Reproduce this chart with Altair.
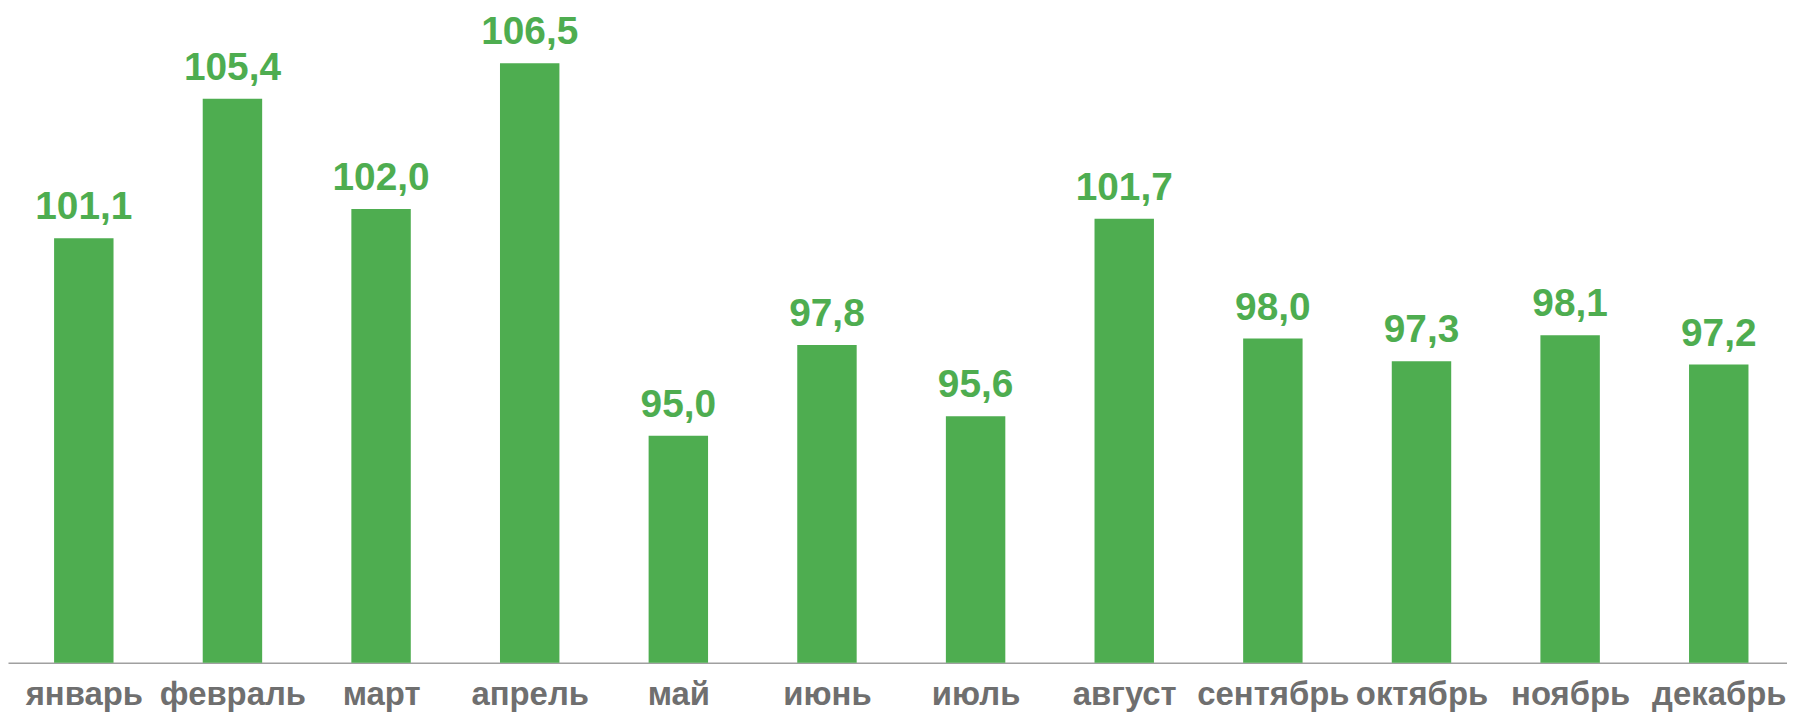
import altair as alt
import pandas as pd

months = ["январь", "февраль", "март", "апрель", "май", "июнь",
          "июль", "август", "сентябрь", "октябрь", "ноябрь", "декабрь"]
values = [101.1, 105.4, 102.0, 106.5, 95.0, 97.8, 95.6, 101.7, 98.0, 97.3, 98.1, 97.2]

df = pd.DataFrame({
    "idx": list(range(len(months))),
    "month": months,
    "value": values,
    "label": [f"{v:.1f}".replace(".", ",") for v in values],
})

GREEN = "#4EAD50"
FONT = "Liberation Sans"
W = 1787
STEP = 149.3
x0 = -0.5 - 1.5 / STEP
x1 = x0 + W / STEP

label_expr = "[" + ",".join(f"'{m}'" for m in months) + "][datum.value]"

x = alt.X("idx:Q",
          scale=alt.Scale(domain=[x0, x1], nice=False, zero=False, padding=0),
          axis=alt.Axis(title=None, values=list(range(len(months))), labelExpr=label_expr,
                        labelAngle=0, ticks=False, tickSize=0,
                        domainColor="#A0A0A0", domainWidth=1.5,
                        labelFont=FONT, labelFontSize=33, labelFontWeight="bold",
                        labelColor="#6F6F6F", labelBaseline="alphabetic",
                        labelPadding=42, grid=False, labelOverlap=False, labelFlush=False))
y = alt.Y("value:Q", scale=alt.Scale(domain=[88, 108], zero=False, nice=False, clamp=True, padding=0),
          axis=None)

bars = alt.Chart(df).mark_bar(color=GREEN, size=59.7).encode(x=x, y=y, y2=alt.datum(88))
text = alt.Chart(df).mark_text(color=GREEN, font=FONT, fontSize=39, fontWeight="bold",
                               baseline="alphabetic", align="center", dy=-19).encode(
    x="idx:Q", y="value:Q", text="label:N")

chart = (bars + text).properties(
    width=W, height=651,
    autosize=alt.AutoSizeParams(type="none"),
    padding={"left": 0, "top": 5, "right": 0, "bottom": 49},
    background="white",
).configure_view(stroke=None)

chart.save("out.html", embed_options={"renderer": "svg", "actions": False})
